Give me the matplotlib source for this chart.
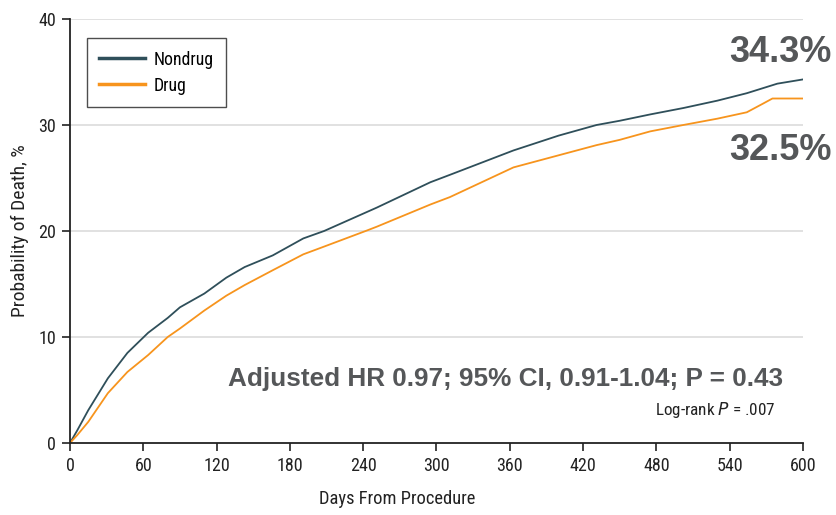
import matplotlib
matplotlib.use("Agg")
import matplotlib.pyplot as plt

# values (cumulative probability of death, %)
nondrug_days = [0, 6, 15, 31, 47, 64, 80, 90, 110, 128, 143, 166, 191, 208, 251,
                295, 311, 363, 400, 431, 450, 475, 502, 530, 554, 579, 600]
nondrug_pct = [0, 1.2, 3.1, 6.1, 8.5, 10.4, 11.8, 12.8, 14.1, 15.6, 16.6, 17.7, 19.3,
               20.0, 22.2, 24.6, 25.3, 27.6, 29.0, 30.0, 30.4, 31.0, 31.6, 32.3,
               33.0, 33.9, 34.3]

drug_days = [0, 6, 15, 31, 47, 64, 80, 90, 110, 128, 143, 166, 191, 205, 242, 251,
             295, 311, 363, 431, 450, 475, 502, 530, 554, 567, 575, 600]
drug_pct = [0, 0.75, 2.0, 4.7, 6.7, 8.3, 10.0, 10.8, 12.5, 13.9, 14.9, 16.3, 17.8,
            18.4, 20.0, 20.4, 22.5, 23.2, 26.0, 28.1, 28.6, 29.4, 30.0, 30.6,
            31.2, 32.0, 32.5, 32.5]

x_ticks = list(range(0, 601, 60))
y_ticks = [0, 10, 20, 30, 40]

NONDRUG_COL = "#2f4f5a"
DRUG_COL = "#f7941d"
TXT_COL = "#555759"
narrow = ["Roboto Condensed", "DejaVu Sans"]

fig = plt.figure(figsize=(8.36, 5.15), dpi=100)
ax = fig.add_axes([0.0837, 0.1398, 0.8768, 0.8233])

for y in y_ticks[1:]:
    ax.axhline(y, color="#dcdcdc", lw=1.2, zorder=0)

ax.plot(nondrug_days, nondrug_pct, color=NONDRUG_COL, lw=1.3, label="Nondrug")
ax.plot(drug_days, drug_pct, color=DRUG_COL, lw=1.3, label="Drug")

ax.set_xlim(0, 600)
ax.set_ylim(0, 40)
ax.set_xticks(x_ticks)
ax.set_yticks(y_ticks)
for lab in ax.get_xticklabels() + ax.get_yticklabels():
    lab.set_family(narrow)
    lab.set_fontsize(13)
    lab.set_color("#222222")
ax.tick_params(direction="out", length=6, width=1.2, color="#222222", pad=4)

for s in ["top", "right"]:
    ax.spines[s].set_visible(False)
for s in ["left", "bottom"]:
    ax.spines[s].set_linewidth(1.3)
    ax.spines[s].set_color("#222222")

ax.set_xlabel("Days From Procedure", family=narrow, fontsize=13.3, color="#222222")
ax.xaxis.set_label_coords(0.447, -0.11)
ax.set_ylabel("Probability of Death, %", family=narrow, fontsize=14, color="#222222")
ax.yaxis.set_label_coords(-0.056, 0.5)

leg = ax.legend(loc="upper left", bbox_to_anchor=(0.023, 0.955), borderaxespad=0,
                frameon=True, fancybox=False, handlelength=2.6, handletextpad=0.45,
                borderpad=0.7, labelspacing=0.45, prop={"family": narrow, "size": 12.8})
leg.get_frame().set_edgecolor("#222222")
leg.get_frame().set_linewidth(1.0)
for h in leg.get_lines():
    h.set_linewidth(2.5)

big = dict(family="Liberation Sans", fontweight="bold", color=TXT_COL, fontsize=26)
fig.text(0.995, 0.898, "34.3%", ha="right", va="center", **big)
fig.text(0.995, 0.708, "32.5%", ha="right", va="center", **big)
fig.text(0.6045, 0.264, "Adjusted HR 0.97; 95% CI, 0.91-1.04; P = 0.43", ha="center", va="center",
         family="Liberation Sans", fontweight="bold", color=TXT_COL, fontsize=18.8)
fig.text(0.927, 0.203, "Log-rank $\\it{P}$ = .007", ha="right", va="center",
         family=narrow, fontsize=12.3, color="#222222")

fig.savefig("out.png", dpi=100)
